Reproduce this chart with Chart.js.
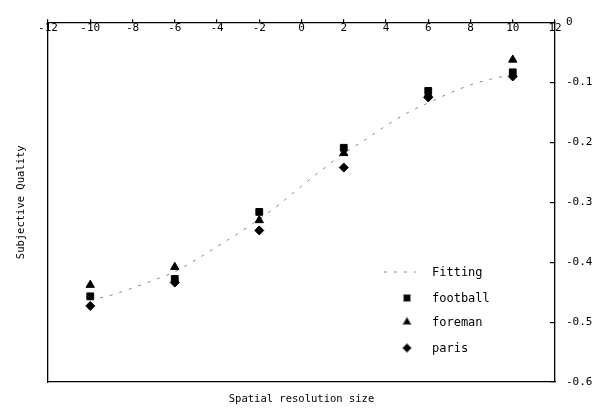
<!DOCTYPE html>
<html>
<head>
<meta charset="utf-8">
<script src="https://cdn.jsdelivr.net/npm/chart.js@4.4.0/dist/chart.umd.min.js"></script>
<style>
  html, body { margin: 0; padding: 0; background: #fff; }
  #wrap { width: 604px; height: 414px; }
</style>
</head>
<body>
<div id="wrap"><canvas id="qualityChart" width="604" height="414"></canvas></div>
<script>
// measured points (spatial resolution size vs subjective quality)
const sizes = [-10, -6, -2, 2, 6, 10];
const football = [-0.457, -0.428, -0.316, -0.209, -0.114, -0.083];
const foreman = [-0.438, -0.408, -0.330, -0.218, -0.120, -0.062];
const paris = [-0.473, -0.434, -0.347, -0.242, -0.125, -0.090];

// fitted curve
const fitSizes = [-10, -9, -8, -7, -6, -5, -4, -3, -2, -1, 0, 1, 2, 3, 4, 5, 6, 7, 8, 9, 10];
const fitting = [-0.463, -0.455, -0.443, -0.430, -0.416, -0.396, -0.374, -0.352, -0.328, -0.302,
  -0.273, -0.245, -0.218, -0.196, -0.172, -0.151, -0.134, -0.118, -0.104, -0.094, -0.087];

const xTicks = [-12, -10, -8, -6, -4, -2, 0, 2, 4, 6, 8, 10, 12];
const yTicks = [0, -0.1, -0.2, -0.3, -0.4, -0.5, -0.6];

const FONT = "'DejaVu Sans Mono', 'Liberation Mono', monospace";

function pts(xs, ys) {
  return xs.map((x, i) => ({ x: x, y: ys[i] }));
}

// legend drawn inside the plot, lower right
const insideLegend = {
  id: 'insideLegend',
  afterDraw(chart) {
    const ctx = chart.ctx;
    const rows = [272, 298, 322, 348];
    ctx.save();
    ctx.font = '12px ' + FONT;
    ctx.fillStyle = '#000';
    ctx.textBaseline = 'middle';
    chart.data.datasets.forEach((ds, i) => {
      const y = rows[i];
      if (ds.type === 'line') {
        ctx.strokeStyle = ds.borderColor;
        ctx.lineWidth = 1;
        ctx.setLineDash(ds.borderDash);
        ctx.beginPath();
        ctx.moveTo(384, y);
        ctx.lineTo(416, y);
        ctx.stroke();
        ctx.setLineDash([]);
      } else {
        Chart.helpers.drawPoint(ctx, {
          pointStyle: ds.pointStyle,
          radius: ds.pointRadius,
          rotation: 0,
          borderWidth: 1
        }, 407, y);
        ctx.fillStyle = '#000';
      }
      ctx.fillText(ds.label, 432, y + 1);
    });
    ctx.restore();
  }
};

const ctx = document.getElementById('qualityChart').getContext('2d');

new Chart(ctx, {
  data: {
    datasets: [
      {
        type: 'line',
        label: 'Fitting',
        data: pts(fitSizes, fitting),
        borderColor: '#888',
        borderWidth: 1,
        borderDash: [3, 7],
        pointRadius: 0,
        fill: false,
        cubicInterpolationMode: 'monotone',
        order: 4
      },
      {
        type: 'scatter',
        label: 'football',
        data: pts(sizes, football),
        pointStyle: 'rect',
        pointRadius: 4.8,
        backgroundColor: '#000',
        borderColor: '#000',
        borderWidth: 1,
        order: 3
      },
      {
        type: 'scatter',
        label: 'foreman',
        data: pts(sizes, foreman),
        pointStyle: 'triangle',
        pointRadius: 4.8,
        backgroundColor: '#000',
        borderColor: '#000',
        borderWidth: 1,
        order: 2
      },
      {
        type: 'scatter',
        label: 'paris',
        data: pts(sizes, paris),
        pointStyle: 'rectRot',
        pointRadius: 4.5,
        backgroundColor: '#000',
        borderColor: '#000',
        borderWidth: 1,
        order: 1
      }
    ]
  },
  options: {
    responsive: false,
    animation: false,
    layout: { padding: { top: 15, right: 0, left: 0, bottom: 0 } },
    plugins: {
      legend: { display: false },
      tooltip: { enabled: false }
    },
    scales: {
      x: {
        type: 'linear',
        position: { y: 0 },
        min: -12,
        max: 12,
        afterBuildTicks: (scale) => { scale.ticks = xTicks.map(v => ({ value: v })); },
        ticks: {
          color: '#000',
          font: { family: FONT, size: 11 },
          padding: 3,
          callback: (v) => String(v)
        },
        grid: { drawOnChartArea: false, drawTicks: true, tickLength: -4, color: '#000', lineWidth: 1.2 },
        border: { display: true, color: '#000', width: 1.3 }
      },
      xb: {
        type: 'linear',
        position: 'bottom',
        min: -12,
        max: 12,
        ticks: { display: false },
        grid: { drawOnChartArea: false, drawTicks: false },
        border: { display: true, color: '#000', width: 1.3 },
        title: {
          display: true,
          text: 'Spatial resolution size',
          color: '#000',
          font: { family: FONT, size: 10.5 },
          padding: { top: 0, bottom: 8 }
        },
        afterFit: (scale) => { scale.height = 32; }
      },
      y: {
        type: 'linear',
        position: 'right',
        min: -0.6,
        max: 0,
        afterBuildTicks: (scale) => { scale.ticks = yTicks.map(v => ({ value: v })); },
        ticks: {
          color: '#000',
          font: { family: FONT, size: 11 },
          padding: 16,
          callback: (v) => String(v)
        },
        grid: { drawOnChartArea: false, drawTicks: true, tickLength: -5, color: '#000', lineWidth: 1.2 },
        border: { display: true, color: '#000', width: 1.3 },
        afterFit: (scale) => { scale.width = 49; }
      },
      yl: {
        type: 'linear',
        position: 'left',
        min: -0.6,
        max: 0,
        ticks: { display: false },
        grid: { drawOnChartArea: false, drawTicks: false },
        border: { display: true, color: '#000', width: 1.3 },
        title: {
          display: true,
          text: 'Subjective Quality',
          color: '#000',
          font: { family: FONT, size: 10.5 },
          padding: { top: 15, bottom: 0 }
        },
        afterFit: (scale) => { scale.width = 48; }
      }
    }
  },
  plugins: [insideLegend]
});
</script>
</body>
</html>
